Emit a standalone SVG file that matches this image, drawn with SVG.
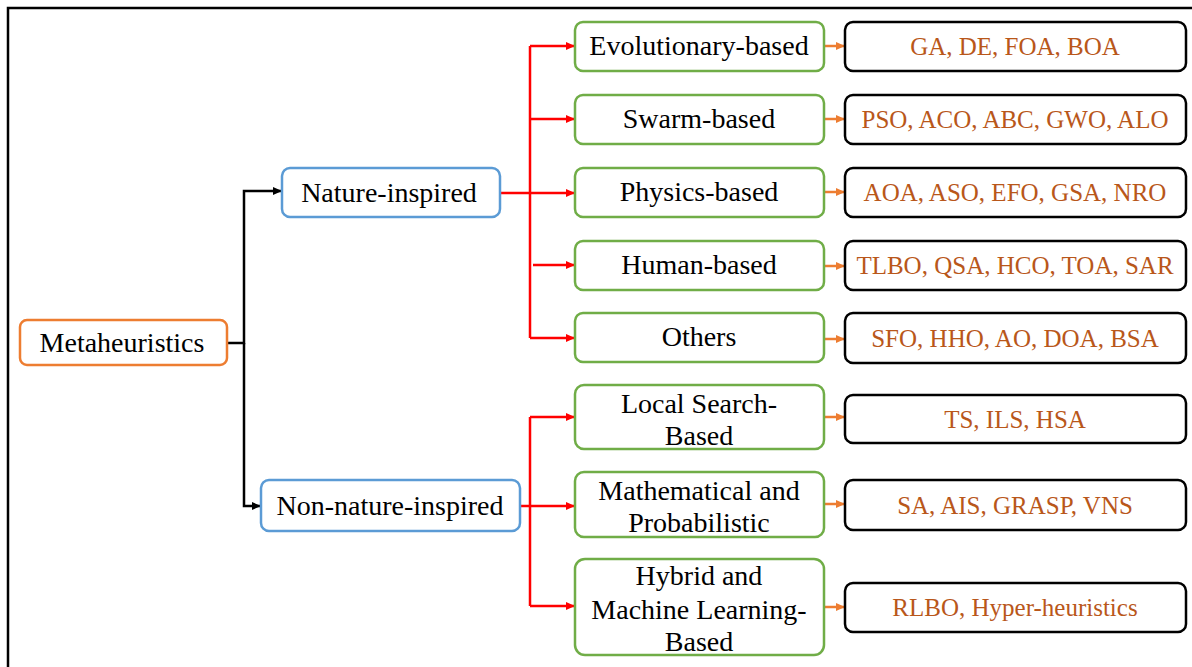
<svg xmlns="http://www.w3.org/2000/svg" width="1192" height="667" viewBox="0 0 1192 667">
<defs>
<style>
.t{font-size:28px;fill:#000;text-anchor:middle}
.o{font-size:25px;fill:#B9571A;text-anchor:middle}
.g{fill:#fff;stroke:#70AD47;stroke-width:2.5}
.b{fill:#fff;stroke:#000;stroke-width:2.5}
.bl{fill:#fff;stroke:#5B9BD5;stroke-width:2.5}
.or{fill:#fff;stroke:#ED7D31;stroke-width:2.5}
.k{fill:none;stroke:#000;stroke-width:2.5}
.r{fill:none;stroke:#FF0000;stroke-width:2.5}
.a{fill:none;stroke:#ED7D31;stroke-width:2.5}
</style>
<marker id="mk" markerWidth="9" markerHeight="8" refX="8" refY="4" orient="auto" markerUnits="userSpaceOnUse"><path d="M0,0 L9,4 L0,8 Z" fill="#000"/></marker>
<marker id="mr" markerWidth="9" markerHeight="8" refX="8" refY="4" orient="auto" markerUnits="userSpaceOnUse"><path d="M0,0 L9,4 L0,8 Z" fill="#FF0000"/></marker>
<marker id="mo" markerWidth="9" markerHeight="8" refX="8" refY="4" orient="auto" markerUnits="userSpaceOnUse"><path d="M0,0 L9,4 L0,8 Z" fill="#ED7D31"/></marker>
</defs>
<rect width="1192" height="667" fill="#fff"/>
<path d="M8,667 V8 H1192" fill="none" stroke="#000" stroke-width="2.5"/>

<g id="connectors">
<path class="k" d="M227,343 H244 V191 H281" marker-end="url(#mk)"/>
<path class="k" d="M244,343 V506 H260" marker-end="url(#mk)"/>
<path class="r" d="M500,193 H574" marker-end="url(#mr)"/>
<path class="r" d="M530,46 V338"/>
<path class="r" d="M530,46 H574" marker-end="url(#mr)"/>
<path class="r" d="M530,119 H574" marker-end="url(#mr)"/>
<path class="r" d="M533,265 H574" marker-end="url(#mr)"/>
<path class="r" d="M530,338 H574" marker-end="url(#mr)"/>
<path class="r" d="M520,506 H574" marker-end="url(#mr)"/>
<path class="r" d="M530,417 V606"/>
<path class="r" d="M530,417 H574" marker-end="url(#mr)"/>
<path class="r" d="M530,606 H574" marker-end="url(#mr)"/>
<path class="a" d="M824,46 H844" marker-end="url(#mo)"/>
<path class="a" d="M824,119 H844" marker-end="url(#mo)"/>
<path class="a" d="M824,192 H844" marker-end="url(#mo)"/>
<path class="a" d="M824,266 H844" marker-end="url(#mo)"/>
<path class="a" d="M824,339 H844" marker-end="url(#mo)"/>
<path class="a" d="M824,417 H844" marker-end="url(#mo)"/>
<path class="a" d="M824,504 H844" marker-end="url(#mo)"/>
<path class="a" d="M824,607 H844" marker-end="url(#mo)"/>
</g>

<g font-family="'Liberation Serif','Times New Roman','DejaVu Serif',serif">
<g id="metaheuristics"><rect class="or" x="20" y="320" width="207" height="45" rx="7"/><text class="t" x="122" y="352">Metaheuristics</text></g>
<g id="nature"><rect class="bl" x="282" y="168" width="218" height="49" rx="8"/><text class="t" x="389" y="202">Nature-inspired</text></g>
<g id="nonnature"><rect class="bl" x="261" y="480" width="259" height="51" rx="8"/><text class="t" x="390" y="515">Non-nature-inspired</text></g>

<g id="evolutionary"><rect class="g" x="575" y="22" width="249" height="49" rx="8"/><text class="t" x="699" y="55">Evolutionary-based</text></g>
<g id="swarm"><rect class="g" x="575" y="95" width="249" height="49" rx="8"/><text class="t" x="699" y="128">Swarm-based</text></g>
<g id="physics"><rect class="g" x="575" y="168" width="249" height="49" rx="8"/><text class="t" x="699" y="201">Physics-based</text></g>
<g id="human"><rect class="g" x="575" y="241" width="249" height="49" rx="8"/><text class="t" x="699" y="274">Human-based</text></g>
<g id="others"><rect class="g" x="575" y="313" width="249" height="49" rx="8"/><text class="t" x="699" y="346">Others</text></g>
<g id="local"><rect class="g" x="575" y="385" width="249" height="64" rx="9"/><text class="t" x="699" y="413">Local Search-</text><text class="t" x="699" y="445">Based</text></g>
<g id="math"><rect class="g" x="575" y="472" width="249" height="65" rx="9"/><text class="t" x="699" y="500">Mathematical and</text><text class="t" x="699" y="532">Probabilistic</text></g>
<g id="hybrid"><rect class="g" x="575" y="559" width="249" height="96" rx="10"/><text class="t" x="699" y="585">Hybrid and</text><text class="t" x="699" y="619">Machine Learning-</text><text class="t" x="699" y="651">Based</text></g>

<g id="ex1"><rect class="b" x="845" y="22" width="341" height="49" rx="8"/><text class="o" x="1015" y="55">GA, DE, FOA, BOA</text></g>
<g id="ex2"><rect class="b" x="845" y="95" width="341" height="49" rx="8"/><text class="o" x="1015" y="128">PSO, ACO, ABC, GWO, ALO</text></g>
<g id="ex3"><rect class="b" x="845" y="168" width="341" height="49" rx="8"/><text class="o" x="1015" y="201">AOA, ASO, EFO, GSA, NRO</text></g>
<g id="ex4"><rect class="b" x="845" y="241" width="341" height="49" rx="8"/><text class="o" x="1015" y="274">TLBO, QSA, HCO, TOA, SAR</text></g>
<g id="ex5"><rect class="b" x="845" y="313" width="341" height="50" rx="8"/><text class="o" x="1015" y="347">SFO, HHO, AO, DOA, BSA</text></g>
<g id="ex6"><rect class="b" x="845" y="395" width="341" height="48" rx="8"/><text class="o" x="1015" y="428">TS, ILS, HSA</text></g>
<g id="ex7"><rect class="b" x="845" y="480" width="341" height="50" rx="8"/><text class="o" x="1015" y="514">SA, AIS, GRASP, VNS</text></g>
<g id="ex8"><rect class="b" x="845" y="583" width="341" height="49" rx="8"/><text class="o" x="1015" y="616">RLBO, Hyper-heuristics</text></g>
</g>
</svg>
